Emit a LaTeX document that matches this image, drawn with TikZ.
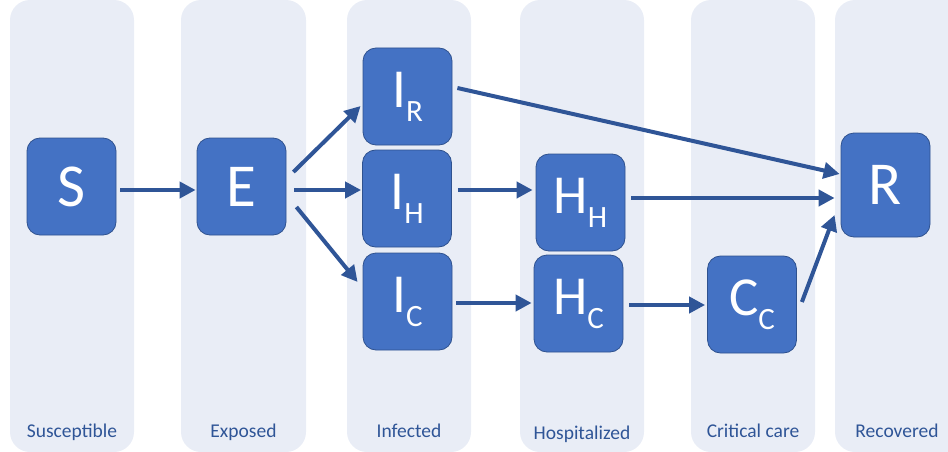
\documentclass[tikz,border=0pt]{standalone}
\usepackage{fontspec}
\setmainfont{Carlito}
\usetikzlibrary{calc,arrows.meta}
\definecolor{lanec}{HTML}{E9EDF6}
\definecolor{boxfill}{HTML}{4472C4}
\definecolor{boxline}{HTML}{2F528F}
\definecolor{arrowc}{HTML}{2F5597}
\definecolor{labelc}{HTML}{2F5597}
\newcommand\mysub[1]{\raisebox{-14pt}{\fontsize{31}{31}\selectfont #1}}
\begin{document}
\begin{tikzpicture}[x=1pt,y=-1pt,
  lanebox/.style={fill=lanec,draw=none,rounded corners=20pt},
  box/.style={draw=boxline,line width=0.8pt,fill=boxfill,rounded corners=13pt,
    minimum width=89pt,minimum height=97pt,text=white,inner sep=0pt,
    font=\fontsize{61}{61}\selectfont},
  subbox/.style={box,font=\fontsize{55}{55}\selectfont},
  flow/.style={draw=arrowc,line width=4pt,-{Triangle[length=16pt,width=16pt]}},
  lanelabel/.style={text=labelc,font=\fontsize{19.5}{20}\selectfont,anchor=base}]
\useasboundingbox (0,0) rectangle (948,452);
\begin{scope}
\clip (0,0) rectangle (948,452);
\fill[lanebox] (10,0) rectangle (134,452);
\fill[lanebox] (181,0) rectangle (306,452);
\fill[lanebox] (347,0) rectangle (471,452);
\fill[lanebox] (520,0) rectangle (644,452);
\fill[lanebox] (691,0) rectangle (815,452);
\fill[lanebox] (835,0) rectangle (968,452);
\end{scope}
\node[lanelabel] (l1) at (72,437) {Susceptible};
\node[lanelabel] (l2) at (243.5,437) {Exposed};
\node[lanelabel] (l3) at (409,437) {Infected};
\node[lanelabel] (l4) at (582,439) {Hospitalized};
\node[lanelabel] (l5) at (753,437) {Critical care};
\node[lanelabel] (l6) at (897,437) {Recovered};

\node[box] (S) at (71.5,186.5) {S};
\node[box] (E) at (241.5,186.5) {E};
\node[subbox] (IR) at (407.5,96.5) {I\mysub{R}};
\node[subbox] (IH) at (407,198.5) {I\mysub{H}};
\node[subbox] (IC) at (407.5,301.5) {I\mysub{C}};
\node[subbox] (HH) at (580.5,202.5) {H\mysub{H}};
\node[subbox] (HC) at (578.5,303.5) {H\mysub{C}};
\node[subbox] (CC) at (752,304.5) {C\mysub{C}};
\node[box,minimum height=104pt] (R) at (885.5,185) {R};

\draw[flow] ($(S.east)+(4,3.5)$) -- ($(E.west)+(-1,3.5)$);
\draw[flow] ($(E.east)+(7,-14.5)$) -- ($(IR.west)+(-2,9.5)$);
\draw[flow] ($(E.east)+(8,3.5)$) -- ($(IH.west)+(-1,-8.5)$);
\draw[flow] ($(E.east)+(10,20.5)$) -- ($(IC.west)+(-5,-19.5)$);
\draw[flow] ($(IR.east)+(5,-8.5)$) -- ($(R.west)+(-1,-11)$);
\draw[flow] ($(IH.east)+(6,-8.5)$) -- ($(HH.west)+(-3,-12.5)$);
\draw[flow] ($(HH.east)+(6,-4.5)$) -- ($(R.west)+(-6,13)$);
\draw[flow] ($(IC.east)+(4,1.5)$) -- ($(HC.west)+(-2,-0.5)$);
\draw[flow] ($(HC.east)+(6,1.5)$) -- ($(CC.west)+(-2,0.5)$);
\draw[flow] ($(CC.east)+(5,-2.5)$) -- ($(R.west)+(-6,30)$);
\end{tikzpicture}
\end{document}
